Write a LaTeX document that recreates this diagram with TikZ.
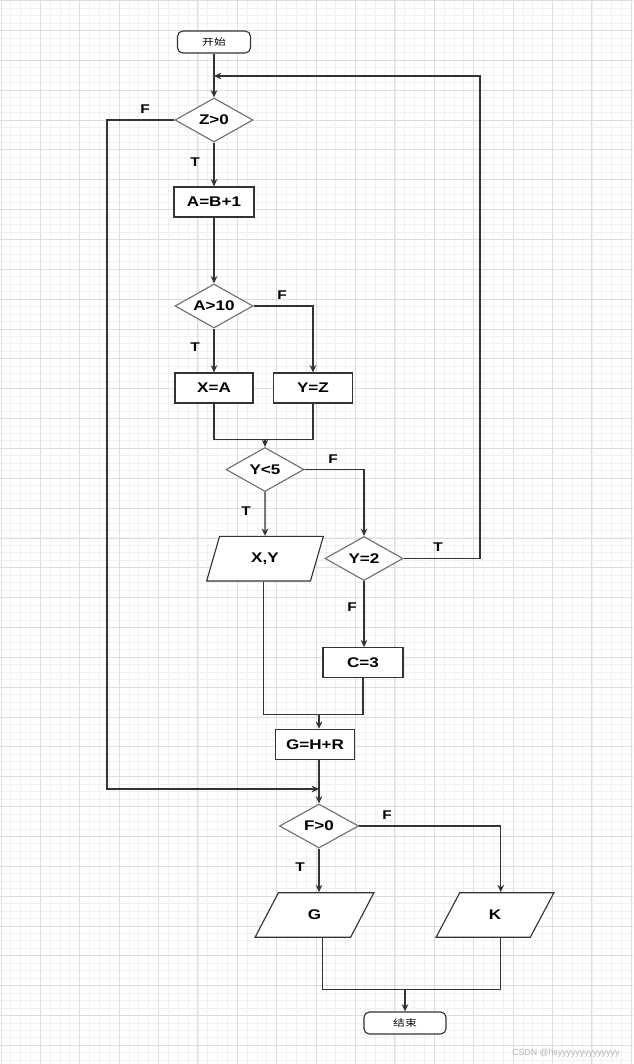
\documentclass[tikz,border=0pt]{standalone}
\usepackage{fontspec}
\setmainfont[FakeStretch=1.22]{Liberation Sans}
\newfontfamily\cjk[FakeStretch=1.3]{Noto Sans CJK SC}
\newfontfamily\wmfont{Liberation Sans}
\usetikzlibrary{shapes.geometric,arrows.meta,calc}

\definecolor{gridminor}{HTML}{F0F0F0}
\definecolor{gridmajor}{HTML}{DDDDDD}
\definecolor{edge}{HTML}{333333}
\definecolor{shapeline}{HTML}{707070}

\begin{document}
\begin{tikzpicture}[x=0.75pt,y=-0.75pt,
  every node/.style={font=\bfseries\fontsize{10.5}{12}\selectfont, text=black},
  proc/.style={rectangle, draw=edge, line width=0.85pt, fill=white,
    minimum width=#1*0.75pt, minimum height=30*0.75pt, inner sep=1pt},
  proc/.default=80,
  term/.style={rectangle, rounded corners=4pt, draw=edge, line width=0.85pt, fill=white,
    minimum width=#1*0.75pt, minimum height=22*0.75pt, inner sep=1pt,
    font=\cjk\fontsize{6.8}{8}\selectfont},
  decision/.style={diamond, draw=shapeline, line width=0.85pt, fill=white, aspect=1.75,
    minimum width=78*0.75pt, minimum height=44*0.75pt, inner sep=0pt},
  iobox/.style={trapezium, trapezium stretches=true, draw=edge, line width=0.85pt, fill=white,
    minimum height=44.6*0.75pt, inner sep=1pt},
  lbl/.style={font=\bfseries\fontsize{9.5}{11}\selectfont, inner sep=0pt},
  arr/.style={draw=edge, line width=0.9pt, -{Stealth[length=5.5pt,width=5pt]}},
  ln/.style={draw=edge, line width=0.9pt}]

\useasboundingbox (0,0) rectangle (633,1064);
\fill[white] (0,0) rectangle (633,1064);

% background grid, lines snapped to pixel centres
\begin{scope}
  \clip (0,0) rectangle (633,1064);
  \foreach \i in {0,...,64}{
    \draw[gridminor, line width=0.75pt] ({floor(1+9.85*\i)+0.5},0) -- ({floor(1+9.85*\i)+0.5},1064);
  }
  \foreach \j in {0,...,142}{
    \draw[gridminor, line width=0.75pt] (0,{floor(0.7+7.4625*\j)+0.5}) -- (633,{floor(0.7+7.4625*\j)+0.5});
  }
  \foreach \i in {0,...,16}{
    \draw[gridmajor, line width=1.1pt] ({floor(1+39.4*\i)+0.5},0) -- ({floor(1+39.4*\i)+0.5},1064);
  }
  \foreach \j in {0,...,35}{
    \draw[gridmajor, line width=1.1pt] (0,{floor(0.7+29.85*\j)+0.5}) -- (633,{floor(0.7+29.85*\j)+0.5});
  }
\end{scope}

% nodes
\node[term=73] (start) at (214,42) {开始};
\node[decision] (zpos) at (214,120) {Z>0};
\node[proc] (ab) at (214,202) {A=B+1};
\node[decision] (aten) at (214,306) {A>10};
\node[proc=78] (xa) at (214,388) {X=A};
\node[proc=79] (yz) at (313,388) {Y=Z};
\node[decision] (yfive) at (265,469.5) {Y<5};
\node[iobox, trapezium left angle=73.5, trapezium right angle=106.5,
      minimum width=117*0.75pt] (outxy) at (265,558.7) {X,Y};
\node[decision] (ytwo) at (364,558.5) {Y=2};
\node[proc] (cthree) at (363,662.7) {C=3};
\node[proc=79] (ghr) at (315,744.3) {G=H+R};
\node[decision, minimum width=79*0.75pt] (fpos) at (319,826) {F>0};
\node[iobox, trapezium left angle=67.7, trapezium right angle=112.3,
      minimum width=119*0.75pt] (outg) at (314.5,915) {G};
\node[iobox, trapezium left angle=67.7, trapezium right angle=112.3,
      minimum width=118*0.75pt] (outk) at (495,915) {K};
\node[term=82] (stop) at (405,1023) {结束};

% junction points
\coordinate (loopr) at (480,76);
\coordinate (fleft) at (107,789);
\coordinate (mergea) at (265,439.3);
\coordinate (mergeb) at (319,714.3);
\coordinate (mergec) at (405,989.3);

% connectors
\draw[arr] (start.south) -- (zpos.north);
\draw[arr] (ytwo.east) -| (loopr) -- (start.south |- loopr);
\draw[arr] (zpos.west) -| (fleft) -- (fleft -| fpos.north);
\draw[arr] (zpos.south) -- (ab.north);
\draw[arr] (ab.south) -- (aten.north);
\draw[arr] (aten.south) -- (xa.north);
\draw[arr] (aten.east) -| (yz.north);
\draw[ln] (xa.south) |- (mergea);
\draw[ln] (yz.south) |- (mergea);
\draw[arr] (mergea) -- (yfive.north);
\draw[arr] (yfive.south) -- (outxy.north);
\draw[arr] (yfive.east) -| (ytwo.north);
\draw[arr] (ytwo.south) -- (ytwo.south |- cthree.north);
\draw[ln] ([xshift=-1.2pt]outxy.south) |- (mergeb);
\draw[ln] (cthree.south) |- (mergeb);
\draw[arr] (mergeb) -- (mergeb |- ghr.north);
\draw[arr] (mergeb |- ghr.south) -- (fpos.north);
\draw[arr] (fpos.south) -- (fpos.south |- outg.north);
\draw[arr] (fpos.east) -| ([xshift=4.3pt]outk.north);
\draw[ln] ([xshift=6pt]outg.south) |- (mergec);
\draw[ln] ([xshift=4.3pt]outk.south) |- (mergec);
\draw[arr] (mergec) -- (stop.north);

% branch labels
\node[lbl] (lf1) at (145,109) {F};
\node[lbl] (lt1) at (195,162) {T};
\node[lbl] (lf2) at (282,295) {F};
\node[lbl] (lt2) at (195,347) {T};
\node[lbl] (lf3) at (333,459) {F};
\node[lbl] (lt3) at (246,511) {T};
\node[lbl] (lt4) at (438,547) {T};
\node[lbl] (lf4) at (352,607) {F};
\node[lbl] (lf5) at (387,815) {F};
\node[lbl] (lt5) at (300,867) {T};

% watermark, running off the right edge
\begin{scope}
  \clip (0,0) rectangle (633,1064);
  \node[anchor=west, inner sep=0pt, font=\wmfont\fontsize{6.6}{7}\selectfont, text=black!30]
    (wm) at (512,1053) {CSDN @hsyyyyyyyyyyyyyy};
\end{scope}
\end{tikzpicture}
\end{document}
